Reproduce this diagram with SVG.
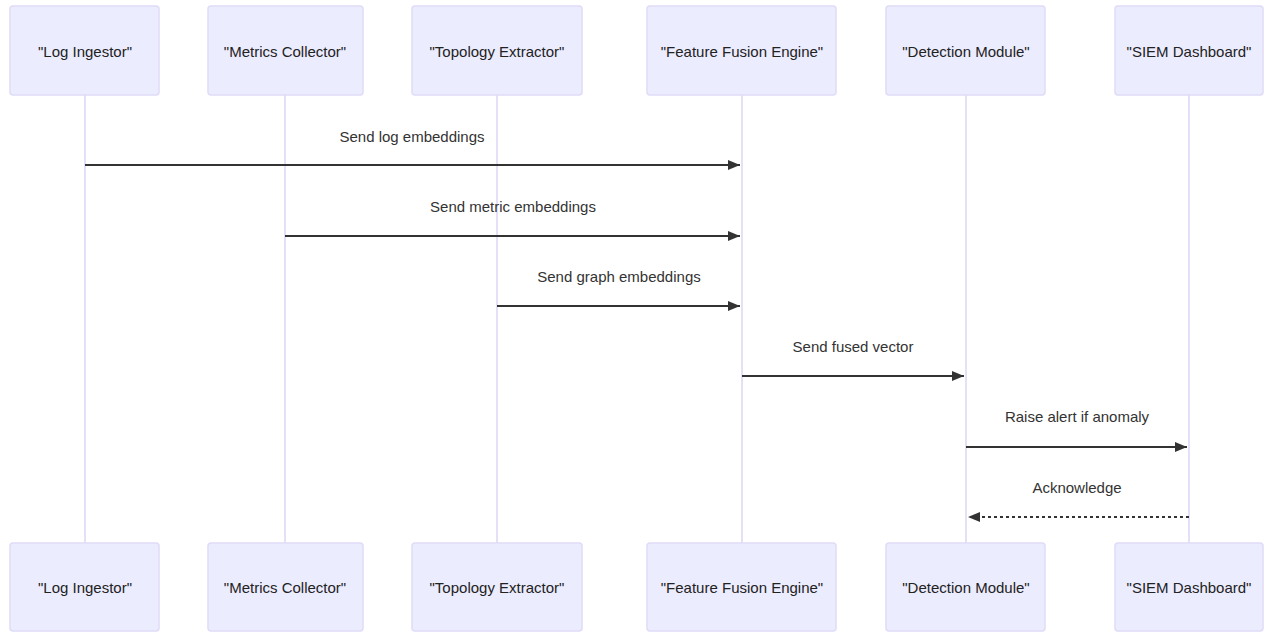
<svg xmlns="http://www.w3.org/2000/svg" width="1266" height="632" viewBox="0 0 1266 632">
<style>
.actor{fill:#ECECFF;stroke:#E0DBF7;stroke-width:1.5}
.lbl{font-family:"Liberation Sans Narrow","Liberation Sans",Arial,sans-serif;font-size:15px;fill:#222;text-anchor:middle;dominant-baseline:central}
.life{stroke:#DCD6F5;stroke-width:1.5}
.msg{stroke:#333;stroke-width:2;fill:none}
.dash{stroke-dasharray:3,3}
.mt{font-family:"Liberation Sans Narrow","Liberation Sans",Arial,sans-serif;font-size:15px;fill:#333;text-anchor:middle}
</style>
<defs>
<marker id="ah" viewBox="0 0 12 10" refX="12" refY="5" markerWidth="12" markerHeight="10" markerUnits="userSpaceOnUse" orient="auto">
<path d="M0,0 L12,5 L0,10 z" fill="#333"/>
</marker>
</defs>
<rect width="1266" height="632" fill="#fff"/>
<g id="lifelines">
<line class="life" x1="85" y1="95" x2="85" y2="543"/>
<line class="life" x1="285" y1="95" x2="285" y2="543"/>
<line class="life" x1="497" y1="95" x2="497" y2="543"/>
<line class="life" x1="742" y1="95" x2="742" y2="543"/>
<line class="life" x1="966" y1="95" x2="966" y2="543"/>
<line class="life" x1="1189" y1="95" x2="1189" y2="543"/>
</g>
<g id="log-ingestor-top"><rect class="actor" x="10" y="6" width="149" height="89" rx="3"/><text class="lbl" x="85" y="51">"Log Ingestor"</text></g>
<g id="metrics-collector-top"><rect class="actor" x="208" y="6" width="155" height="89" rx="3"/><text class="lbl" x="285" y="51">"Metrics Collector"</text></g>
<g id="topology-extractor-top"><rect class="actor" x="412" y="6" width="170" height="89" rx="3"/><text class="lbl" x="497" y="51">"Topology Extractor"</text></g>
<g id="feature-fusion-top"><rect class="actor" x="647" y="6" width="189" height="89" rx="3"/><text class="lbl" x="742" y="51">"Feature Fusion Engine"</text></g>
<g id="detection-module-top"><rect class="actor" x="886" y="6" width="159" height="89" rx="3"/><text class="lbl" x="966" y="51">"Detection Module"</text></g>
<g id="siem-dashboard-top"><rect class="actor" x="1115" y="6" width="148" height="89" rx="3"/><text class="lbl" x="1189" y="51">"SIEM Dashboard"</text></g>
<g id="log-ingestor-bottom"><rect class="actor" x="10" y="543" width="149" height="88" rx="3"/><text class="lbl" x="85" y="587">"Log Ingestor"</text></g>
<g id="metrics-collector-bottom"><rect class="actor" x="208" y="543" width="155" height="88" rx="3"/><text class="lbl" x="285" y="587">"Metrics Collector"</text></g>
<g id="topology-extractor-bottom"><rect class="actor" x="412" y="543" width="170" height="88" rx="3"/><text class="lbl" x="497" y="587">"Topology Extractor"</text></g>
<g id="feature-fusion-bottom"><rect class="actor" x="647" y="543" width="189" height="88" rx="3"/><text class="lbl" x="742" y="587">"Feature Fusion Engine"</text></g>
<g id="detection-module-bottom"><rect class="actor" x="886" y="543" width="159" height="88" rx="3"/><text class="lbl" x="966" y="587">"Detection Module"</text></g>
<g id="siem-dashboard-bottom"><rect class="actor" x="1115" y="543" width="148" height="88" rx="3"/><text class="lbl" x="1189" y="587">"SIEM Dashboard"</text></g>
<g id="connectors">
<line class="msg" x1="85" y1="165" x2="740" y2="165" marker-end="url(#ah)"/>
<text class="mt" x="412" y="142">Send log embeddings</text>
<line class="msg" x1="285" y1="236" x2="740" y2="236" marker-end="url(#ah)"/>
<text class="mt" x="513" y="212">Send metric embeddings</text>
<line class="msg" x1="497" y1="306" x2="740" y2="306" marker-end="url(#ah)"/>
<text class="mt" x="619" y="282">Send graph embeddings</text>
<line class="msg" x1="742" y1="376" x2="964" y2="376" marker-end="url(#ah)"/>
<text class="mt" x="853" y="352">Send fused vector</text>
<line class="msg" x1="966" y1="447" x2="1187" y2="447" marker-end="url(#ah)"/>
<text class="mt" x="1077" y="422">Raise alert if anomaly</text>
<line class="msg dash" x1="1189" y1="517" x2="968" y2="517" marker-end="url(#ah)"/>
<text class="mt" x="1077" y="493">Acknowledge</text>
</g>
</svg>
